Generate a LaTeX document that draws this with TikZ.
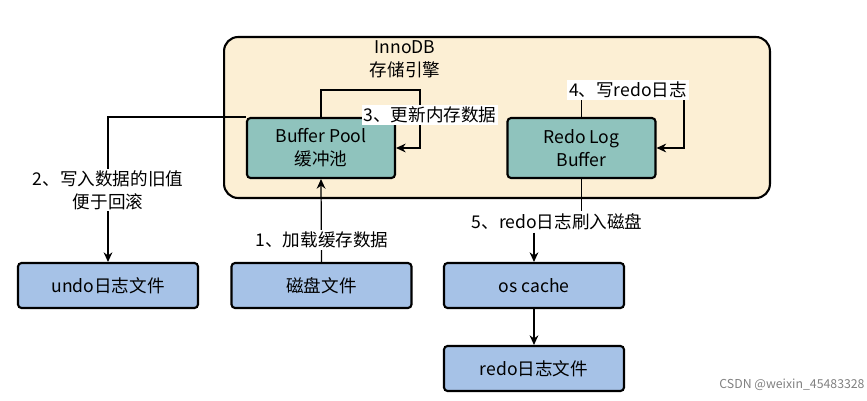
\documentclass[tikz,border=0pt]{standalone}
\usepackage{fontspec}
\setmainfont{Noto Sans CJK SC}
\usetikzlibrary{arrows.meta,positioning}
\definecolor{engine}{HTML}{FCEFD4}
\definecolor{pool}{HTML}{8FC3BD}
\definecolor{disk}{HTML}{A6C2E7}

\begin{document}
\begin{tikzpicture}[x=0.02cm, y=-0.02cm, font=\fontsize{10}{13}\selectfont, >={Stealth[length=5.5pt,width=5pt]}, line width=0.7pt]
  \tikzset{
    membox/.style={draw, line width=1.2pt, rounded corners=2pt, fill=pool, minimum width=2.96cm, minimum height=1.2cm, align=center},
    filebox/.style={draw, line width=1.2pt, rounded corners=2pt, fill=disk, minimum width=3.6cm, minimum height=0.9cm},
    steplabel/.style={fill=white, inner sep=1pt, align=center}
  }
  \useasboundingbox (0,0) rectangle (867,400);
  % engine frame
  \node[draw, line width=1.2pt, rounded corners=8pt, fill=engine, minimum width=10.92cm, minimum height=3.22cm] (innodb) at (497,117.5) {};
  \node[align=center] (title) at (405,59) {InnoDB\\存储引擎};
  \node[membox] (bp) at (321,148) {Buffer Pool\\缓冲池};
  \node[membox] (redo) at (581.5,148) {Redo Log\\Buffer};
  % files
  \node[filebox] (undo) at (108,285.5) {undo日志文件};
  \node[filebox] (disk) at (321.5,285.5) {磁盘文件};
  \node[filebox] (oscache) at (534,285.5) {os cache};
  \node[filebox] (redofile) at (534,368.5) {redo日志文件};
  % loops
  \coordinate (c3) at (420,90);
  \coordinate (c4) at (684,92);
  \draw[->] (bp.north) |- (c3) |- (bp.east);
  \draw[->] (redo.north) |- (c4) |- (redo.east);
  \node[steplabel] (l3) at (430,115) {3、更新内存数据};
  \node[steplabel] (l4) at (628,90) {4、写redo日志};
  % undo
  \draw[->] (bp.north west) -| (undo.north);
  \node[steplabel] (l2) at (108,190) {2、写入数据的旧值\\便于回滚};
  % load
  \draw[->] (disk.north) -- (bp.south);
  \node[steplabel] (l1) at (322,240) {1、加载缓存数据};
  % flush
  \node[steplabel] (l5) at (557,222) {5、redo日志刷入磁盘};
  \draw (redo.south) -- (redo.south |- l5.north);
  \draw[->] (l5.south -| oscache.north) -- (oscache.north);
  \draw[->] (oscache) -- (redofile);
  \node[text=gray, font=\fontsize{7}{8}\selectfont] (mark) at (792,385) {CSDN @weixin\_45483328};
\end{tikzpicture}
\end{document}
